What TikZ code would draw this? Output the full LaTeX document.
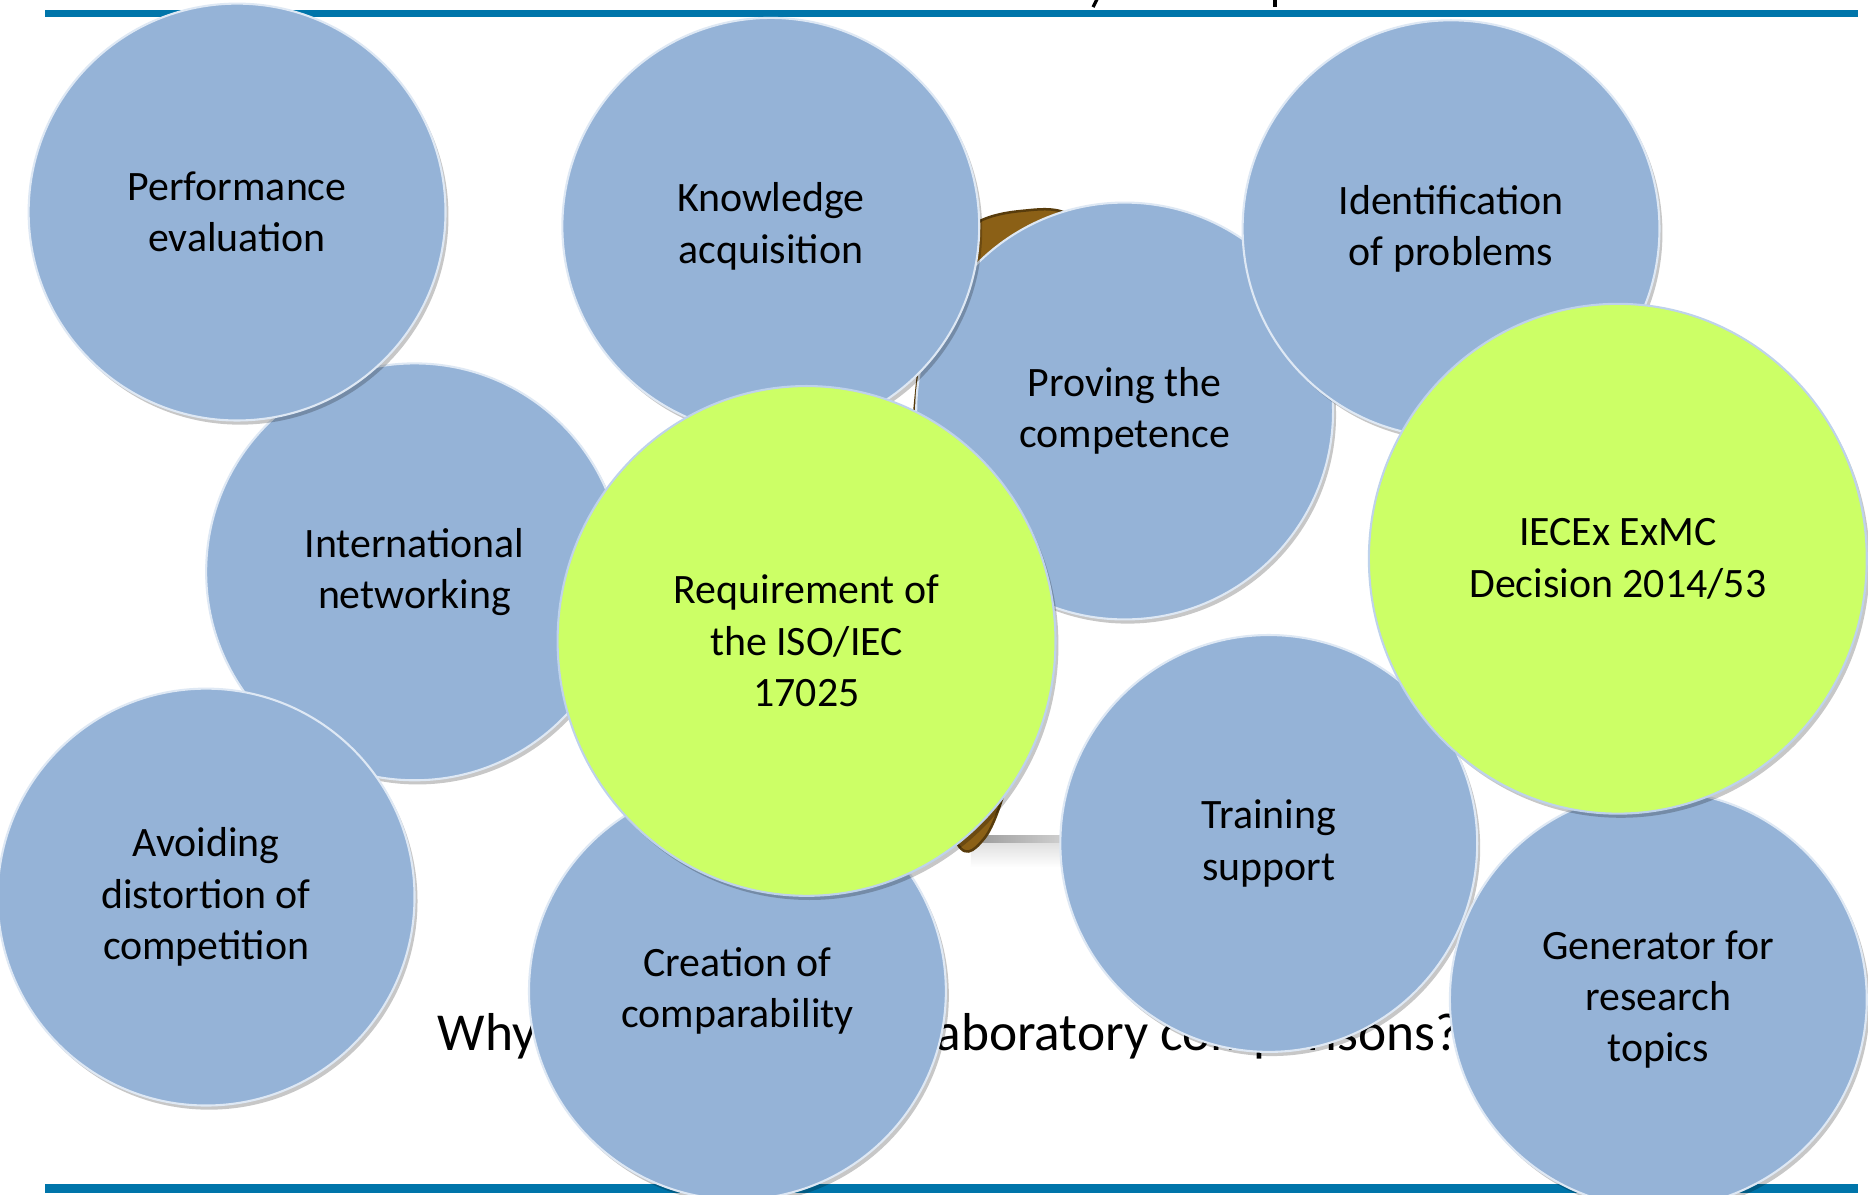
\documentclass[tikz,border=0pt]{standalone}
\usepackage{fontspec}
\setmainfont{Carlito}
\usetikzlibrary{shadows,shapes.geometric}
\definecolor{bubblue}{RGB}{149,179,215}
\definecolor{edgeblue}{RGB}{222,232,244}
\definecolor{bubgreen}{RGB}{204,255,102}
\definecolor{edgegreen}{RGB}{190,210,235}
\definecolor{rulecol}{RGB}{0,117,170}
\definecolor{browncol}{RGB}{139,96,22}
\definecolor{browndark}{RGB}{88,60,12}
\tikzset{
  bubble/.style={circle, fill=bubblue, draw=edgeblue, line width=1pt,
    minimum size=7cm, inner sep=0pt, align=center, text=black,
    font=\fontsize{20}{24.5}\selectfont,
    drop shadow={shadow xshift=0.05cm, shadow yshift=-0.07cm, opacity=0.22, fill=black}},
  greenbubble/.style={ellipse, fill=bubgreen, draw=edgegreen, line width=1pt,
    minimum width=8.36cm, minimum height=8.56cm, inner sep=0pt, align=center, text=black,
    font=\fontsize{20}{24.5}\selectfont,
    drop shadow={shadow xshift=0.05cm, shadow yshift=-0.07cm, opacity=0.22, fill=black}},
  rulebar/.style={fill=rulecol, draw=none},
  bigtext/.style={font=\fontsize{25.5}{30}\selectfont, inner sep=0pt, text=black}
}
\begin{document}
\begin{tikzpicture}[x=0.02cm, y=-0.02cm]
\useasboundingbox (0,0) rectangle (1568,1003);
\fill[white] (0,0) rectangle (1568,1003);
% rules
\fill[rulebar] (38,8) rectangle (1560,14.5);
\fill[rulebar] (38,994) rectangle (1560,1001);
% title descenders peeking above the top rule
\draw[black, line width=0.055cm, line cap=butt] (921,-1) -- (917.5,6);
\draw[black, line width=0.06cm, line cap=butt] (1070,-1) -- (1070,6);
% soft shadow of the object on the surface
\shade[left color=black!40, right color=white] (815,701) rectangle (960,708);
\shade[top color=black!12, bottom color=white] (815,708) rectangle (960,728);
% brown object behind the bubbles
\fill[browncol, draw=browndark, line width=1.2pt]
  plot[smooth cycle, tension=0.6] coordinates {(770,320) (785,230) (815,190) (858,177) (900,182) (930,230) (925,400) (872,530) (850,640) (826,704) (800,700) (775,560) (765,420)};
% caption text behind the bubbles
\node[bigtext, anchor=base west] (why) at (367,882) {Why};
\node[bigtext, anchor=base west] (labcomp) at (785,882) {aboratory comparisons?};
% bubbles
\node[bubble] (prove) at (944,345) {Proving the\\competence};
\node[bubble] (know) at (647,190) {Knowledge\\acquisition};
\node[bubble] (ident) at (1218,192) {Identification\\of problems};
\node[bubble] (intl) at (348,480) {International\\networking};
\node[bubble] (perf) at (199,178) {Performance\\evaluation};
\node[bubble] (avoid) at (173,753) {Avoiding\\distortion of\\competition};
\node[bubble] (create) at (619,832) {Creation of\\comparability};
\node[bubble] (train) at (1065,708) {Training\\support};
\node[bubble] (gen) at (1392,839) {Generator for\\research\\topics};
\node[greenbubble] (req) at (677,538) {Requirement of\\the ISO/IEC\\17025};
\node[greenbubble] (iecex) at (1358,469) {IECEx ExMC\\Decision 2014/53};
\end{tikzpicture}
\end{document}
